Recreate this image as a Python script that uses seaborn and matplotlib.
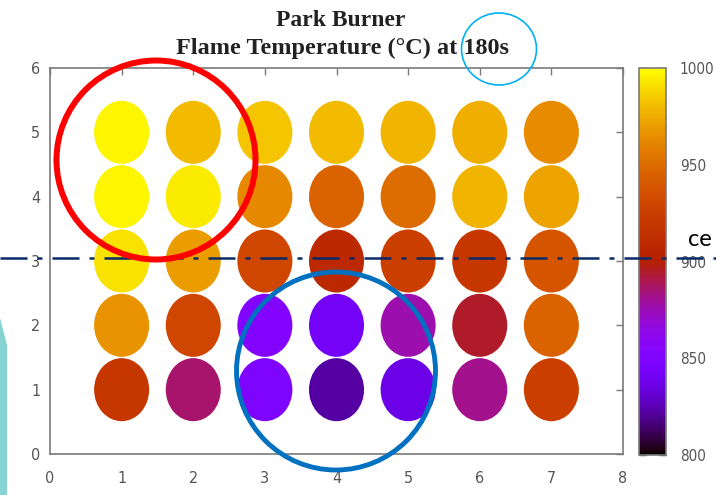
import numpy as np
import pandas as pd
import matplotlib
matplotlib.use("Agg")
import matplotlib.pyplot as plt
import seaborn as sns
from matplotlib.path import Path
from matplotlib.transforms import Affine2D
from matplotlib.patches import Ellipse, Polygon
from matplotlib.lines import Line2D
import matplotlib.colors as mcolors
import matplotlib.cm as cm

# ---- data ----
columns = [1, 2, 3, 4, 5, 6, 7]
rows = [5, 4, 3, 2, 1]
temp_row5 = [997, 980, 983, 980, 978, 976, 964]
temp_row4 = [997, 994, 962, 946, 950, 978, 972]
temp_row3 = [992, 970, 930, 908, 925, 920, 938]
temp_row2 = [966, 930, 852, 842, 876, 895, 946]
temp_row1 = [920, 886, 849, 822, 836, 882, 925]
temp_rows = [temp_row5, temp_row4, temp_row3, temp_row2, temp_row1]
title_lines = ["Park Burner", "Flame Temperature (°C) at 180s"]
cbar_ticks = [800, 850, 900, 950, 1000]
x_ticks = [0, 1, 2, 3, 4, 5, 6, 7, 8]
y_ticks = [0, 1, 2, 3, 4, 5, 6]

records = []
for r, vals in zip(rows, temp_rows):
    for c, v in zip(columns, vals):
        records.append({"x": c, "y": r, "temp": v})
df = pd.DataFrame(records)

sns.set_style("white")
plt.rcParams['font.family'] = ['DejaVu Sans']
plt.rcParams['font.stretch'] = 'condensed'

W, H = 716, 495
fig = plt.figure(figsize=(W / 100, H / 100), dpi=100)
fig.patch.set_facecolor("white")

def fx(px):
    return px / W

def fy(py):
    return 1 - py / H

ax = fig.add_axes([fx(50), fy(454), fx(623) - fx(50), fy(68) - fy(454)])
cax = fig.add_axes([fx(639), fy(455), fx(666) - fx(639), fy(68) - fy(455)])

vmin, vmax = 800, 1000
norm = mcolors.Normalize(vmin=vmin, vmax=vmax)
cmap = plt.get_cmap("gnuplot")

ell = Path.unit_circle().transformed(Affine2D().scale(55 / 63, 1.0))
sns.scatterplot(data=df, x="x", y="y", hue="temp", palette="gnuplot",
                hue_norm=(vmin, vmax), marker=ell, s=2060, linewidth=0,
                legend=False, ax=ax, zorder=2)

ax.set_xlim(0, 8)
ax.set_ylim(0, 6)
ax.set_xticks(x_ticks)
ax.set_yticks(y_ticks)
ax.set_xlabel("")
ax.set_ylabel("")
gray = "#7a7a7a"
lab = "#555555"
for sp in ax.spines.values():
    sp.set_color(gray)
    sp.set_linewidth(1.2)
    sp.set_visible(True)
ax.tick_params(axis="both", direction="in", length=5, width=1, color=gray,
               labelcolor=lab, labelsize=11.5, top=True, right=True)
ax.tick_params(axis="x", pad=12)
ax.tick_params(axis="y", pad=7)

sm = cm.ScalarMappable(norm=norm, cmap=cmap)
cb = fig.colorbar(sm, cax=cax, ticks=cbar_ticks)
cb.outline.set_edgecolor(gray)
cb.outline.set_linewidth(1.2)
cax.tick_params(direction="in", length=5, width=1, color="#444444",
                labelcolor=lab, labelsize=11, pad=10, left=True, right=True)

# title
fig.text(fx(341), fy(20), title_lines[0], ha="center", va="center",
         family="Liberation Serif", fontweight="bold", fontsize=17, color="#222222")
fig.text(fx(342), fy(48), title_lines[1], ha="center", va="center",
         family="Liberation Serif", fontweight="bold", fontsize=17.5, color="#222222")

# slide decorations
fig.patches.append(Polygon([(fx(0), fy(318)), (fx(7), fy(345)), (fx(7), fy(495)),
                            (fx(0), fy(495))], closed=True, transform=fig.transFigure,
                           facecolor="#86d3d3", edgecolor="none", zorder=0))
fig.lines.append(Line2D([0, 1], [fy(258), fy(258)], transform=fig.transFigure,
                        color="#0a2a66", lw=1.8, linestyle=(0, (10.8, 4, 2, 4)), zorder=10))
fig.patches.append(Ellipse((fx(156), fy(160)), fx(199), 199 / H, transform=fig.transFigure,
                           fill=False, edgecolor="#ff0000", lw=4.3, zorder=11))
fig.patches.append(Ellipse((fx(336), fy(371)), fx(199), 198 / H, transform=fig.transFigure,
                           fill=False, edgecolor="#0070c0", lw=3.5, zorder=11))
fig.patches.append(Ellipse((fx(499), fy(49)), fx(75), 72 / H, transform=fig.transFigure,
                           fill=False, edgecolor="#00b0f0", lw=1.2, zorder=11))
fig.text(fx(688), fy(240), "ce", ha="left", va="center", family="Lato",
         fontsize=17, color="black", zorder=12)

fig.savefig("out.png", dpi=100, facecolor="white")
